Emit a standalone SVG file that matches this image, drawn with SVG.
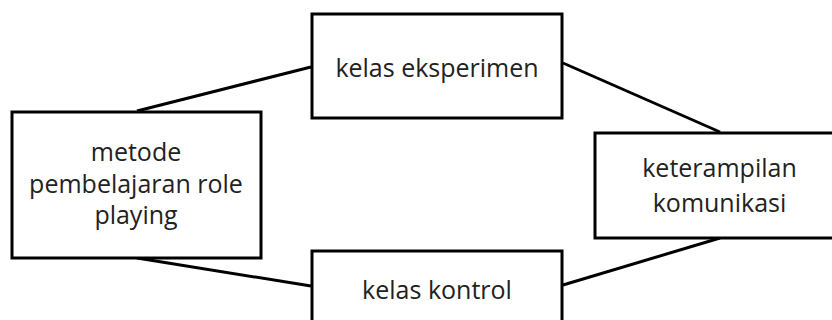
<svg xmlns="http://www.w3.org/2000/svg" width="832" height="320" viewBox="0 0 832 320">
  <style>
    .box { fill: #fff; stroke: #000; stroke-width: 3; }
    .lbl { font-family: "Open Sans", "Liberation Sans", sans-serif; font-size: 25px; fill: #222; text-anchor: middle; }
    .link { stroke: #000; stroke-width: 3; fill: none; }
  </style>
  <rect width="832" height="320" fill="#fff"/>
  <g id="connectors">
    <line class="link" x1="137" y1="111" x2="311" y2="67"/>
    <line class="link" x1="563" y1="63" x2="720" y2="132"/>
    <line class="link" x1="137" y1="258" x2="311" y2="286"/>
    <line class="link" x1="563" y1="285" x2="720" y2="238"/>
  </g>
  <g id="metode">
    <rect class="box" x="12" y="112" width="249" height="146"/>
    <text class="lbl" x="136" y="161">metode</text>
    <text class="lbl" x="136" y="193">pembelajaran role</text>
    <text class="lbl" x="136" y="224">playing</text>
  </g>
  <g id="eksperimen">
    <rect class="box" x="312" y="14" width="250" height="104"/>
    <text class="lbl" x="437" y="77">kelas eksperimen</text>
  </g>
  <g id="kontrol">
    <rect class="box" x="312" y="251" width="250" height="104"/>
    <text class="lbl" x="437" y="299">kelas kontrol</text>
  </g>
  <g id="keterampilan">
    <rect class="box" x="595" y="133" width="249" height="105"/>
    <text class="lbl" x="719.5" y="177">keterampilan</text>
    <text class="lbl" x="719.5" y="212">komunikasi</text>
  </g>
</svg>
